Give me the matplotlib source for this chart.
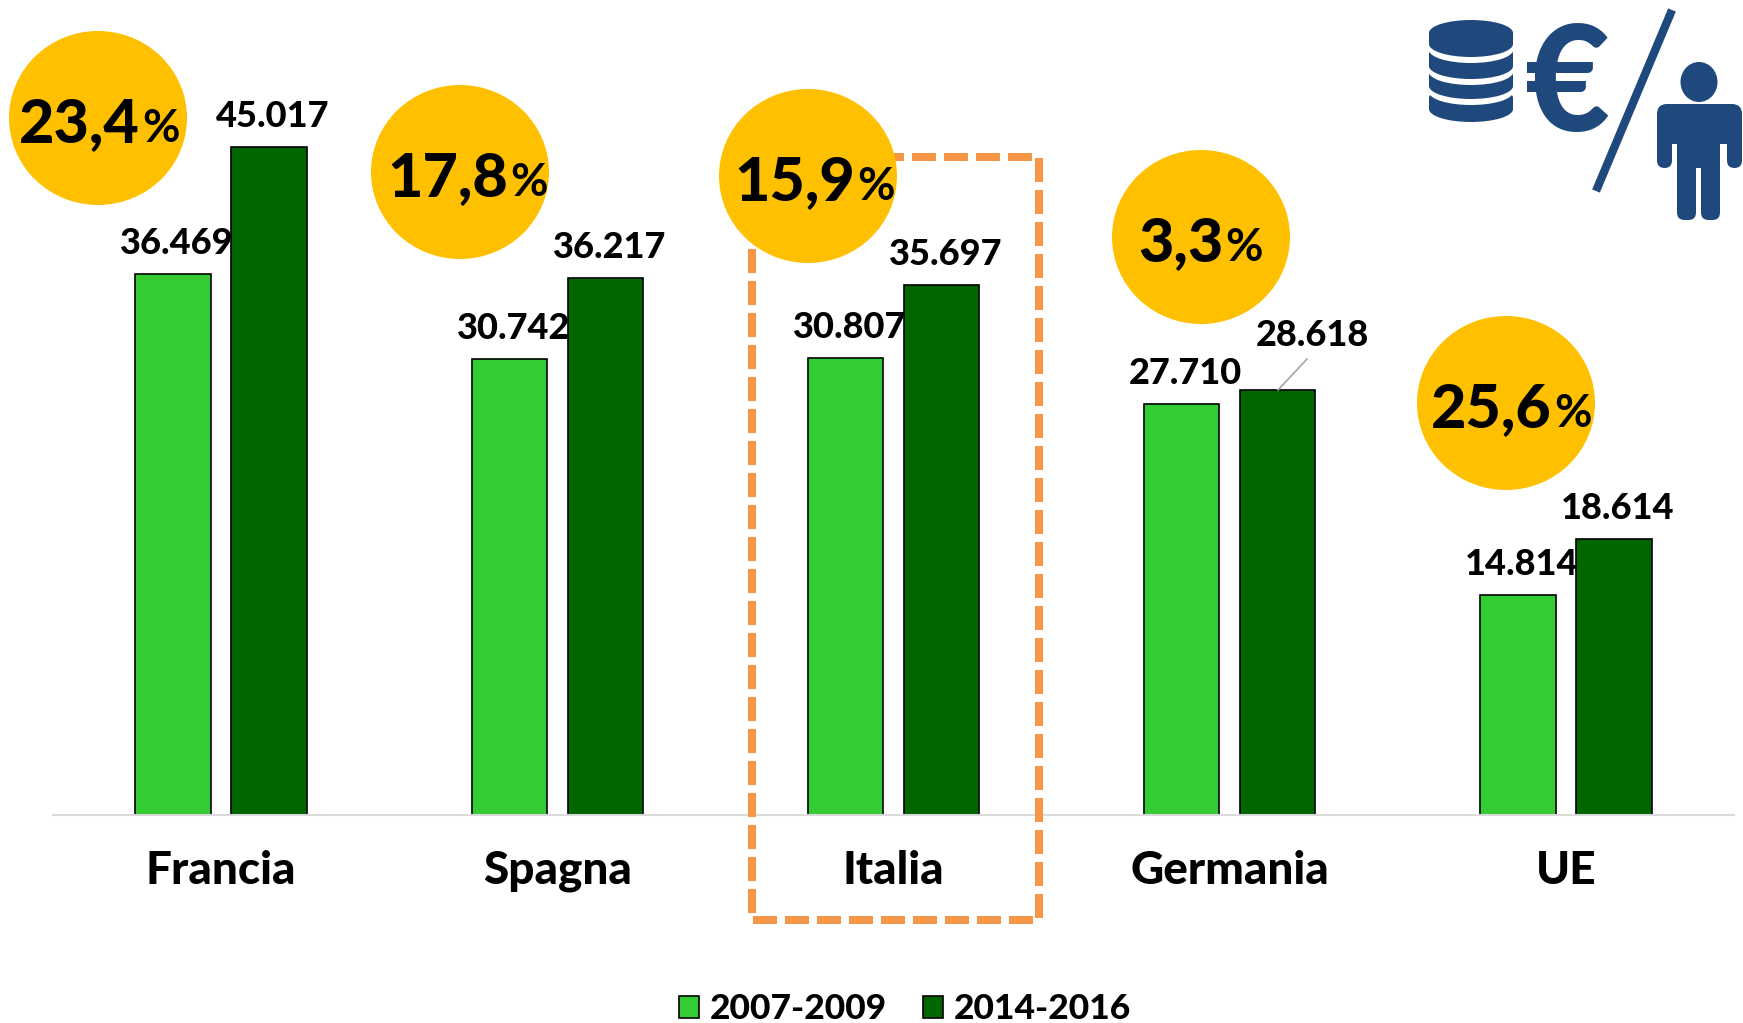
import matplotlib

matplotlib.use("Agg")
import matplotlib.pyplot as plt
from matplotlib.patches import Ellipse, FancyBboxPatch, Rectangle

categories = ["Francia", "Spagna", "Italia", "Germania", "UE"]
series_names = ["2007-2009", "2014-2016"]
values_old = [36469, 30742, 30807, 27710, 14814]
values_new = [45017, 36217, 35697, 28618, 18614]
labels_old = ["36.469", "30.742", "30.807", "27.710", "14.814"]
labels_new = ["45.017", "36.217", "35.697", "28.618", "18.614"]
growth = ["23,4", "17,8", "15,9", "3,3", "25,6"]
# circle centres in figure pixels, and where the number meets the % sign
circle_x = [98, 460, 808, 1201, 1506]
circle_y = [118, 172, 176, 237, 403]
split_x = [143, 511, 858, 1226, 1555]

LIGHT = "#33cc33"
DARK = "#006600"
YELLOW = "#ffc000"
BLUE = "#1f497d"
ORANGE = "#f79646"
W, H = 1743, 1023
FONT = "Lato"

plt.rcParams["font.family"] = [FONT, "DejaVu Sans"]

fig = plt.figure(figsize=(W / 100, H / 100), dpi=100)

# main axes: baseline at y=815px, runs from x=53 to x=1734
ax = fig.add_axes([53 / W, (H - 815) / H, (1734 - 53) / W, 815 / H])
ax.set_xlim(-0.5, 4.5)
ax.set_ylim(0, 815 / 0.01484)
ax.patch.set_alpha(0)

width = 0.224
offset = 0.1427
x = list(range(len(categories)))
bars_old = ax.bar(
    [i - offset for i in x], values_old, width, color=LIGHT, edgecolor="black", linewidth=1.2, label=series_names[0]
)
bars_new = ax.bar(
    [i + offset for i in x], values_new, width, color=DARK, edgecolor="black", linewidth=1.2, label=series_names[1]
)

for s in ["top", "left", "right"]:
    ax.spines[s].set_visible(False)
ax.spines["bottom"].set_color("#d9d9d9")
ax.spines["bottom"].set_linewidth(1.5)
ax.set_yticks([])
ax.set_xticks(x)
ax.set_xticklabels(categories, fontsize=33, fontweight="black", color="black")
ax.tick_params(axis="x", length=0, pad=25)

lab_off = 0.012
for i in x:
    ax.text(i - offset + lab_off, values_old[i] + 1350, labels_old[i], ha="center", va="baseline",
            fontsize=26, fontweight="black", zorder=5)
    if categories[i] == "Germania":
        continue
    ax.text(i + offset + lab_off, values_new[i] + 1350, labels_new[i], ha="center", va="baseline",
            fontsize=26, fontweight="black", zorder=5)

# overlay in figure pixels for the callouts and the icon
ov = fig.add_axes([0, 0, 1, 1])
ov.set_xlim(0, W)
ov.set_ylim(H, 0)
ov.axis("off")

# moved label on Germania with its leader line
ov.plot([1278, 1307], [390, 359], color="#a6a6a6", lw=1.2)
ov.text(1312, 346, labels_new[3], ha="center", va="baseline", fontsize=26, fontweight="black")

ov.add_patch(Rectangle((752, 157), 287, 763, fill=False, edgecolor=ORANGE, linewidth=5.76,
                       linestyle=(0, (3, 1)), zorder=2))

for cx, cy, sx, g in zip(circle_x, circle_y, split_x, growth):
    ov.add_patch(Ellipse((cx, cy), 178, 174, color=YELLOW, lw=0, zorder=3))
    ov.text(sx - 3, cy + 24, g, ha="right", va="baseline", fontsize=44, fontweight="black", zorder=4)
    ov.text(sx - 1, cy + 24, "%", ha="left", va="baseline", fontsize=33, fontweight="bold", zorder=4)


def cylinder(x0, x1, ytop, ybot, ry, color, z):
    cx = (x0 + x1) / 2
    for yc in (ytop, ybot):
        ov.add_patch(Ellipse((cx, yc), x1 - x0, 2 * ry, color=color, lw=0, zorder=z))
    ov.add_patch(Rectangle((x0, ytop), x1 - x0, ybot - ytop, color=color, lw=0, zorder=z))


# coin stack, drawn bottom up with white gaps
layers = [(98, 109), (76, 86), (54, 66), (33, 44)]
for n, (yt, yb) in enumerate(layers):
    if n:
        cylinder(1429, 1513, yt + 6, yb + 6, 13, "white", 5 + n)
    cylinder(1429, 1513, yt, yb, 13, BLUE, 5 + n)

ov.text(1568, 76, "€", ha="center", va="center_baseline", fontsize=106, fontweight="black", color=BLUE, zorder=6)
ov.plot([1672, 1596], [10, 191], color=BLUE, lw=6, solid_capstyle="butt", zorder=6)

# person
ov.add_patch(Ellipse((1699, 82), 37, 40, color=BLUE, lw=0, zorder=6))
ov.add_patch(FancyBboxPatch((1667, 114), 65, 30, boxstyle="round,pad=0,rounding_size=0", color=BLUE, lw=0, zorder=6))
ov.add_patch(FancyBboxPatch((1657, 104), 85, 24, boxstyle="round,pad=0,rounding_size=10", color=BLUE, lw=0, zorder=6))
for x0, x1, y1 in [(1657, 1672, 168), (1727, 1742, 168), (1677, 1696, 220), (1701, 1720, 220)]:
    ov.add_patch(FancyBboxPatch((x0, 112), x1 - x0, y1 - 112, boxstyle="round,pad=0,rounding_size=7.5", color=BLUE, lw=0, zorder=6))
ov.add_patch(Rectangle((1677, 112), 43, 56, color=BLUE, lw=0, zorder=6))

fig.legend(
    handles=[bars_old, bars_new],
    labels=series_names,
    loc="lower left",
    bbox_to_anchor=(647 / W, -34 / H),
    ncols=2,
    frameon=False,
    prop={"family": FONT, "weight": "black", "size": 25.5},
    handlelength=0.58,
    handleheight=0.58,
    handletextpad=0.3,
    columnspacing=1.0,
)

fig.savefig("out.png", dpi=100, facecolor="white")
